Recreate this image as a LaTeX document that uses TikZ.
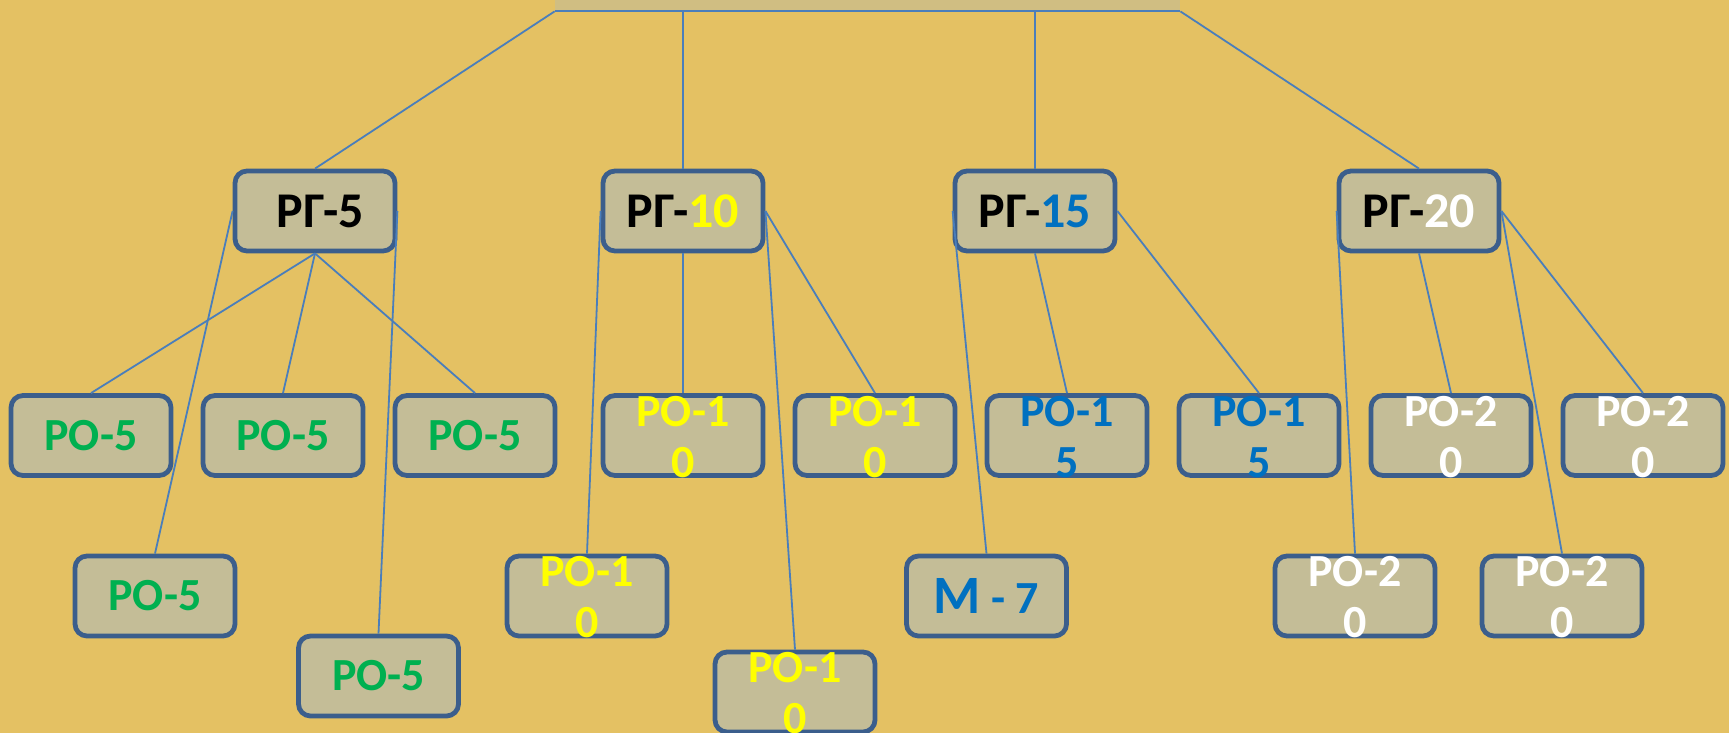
\documentclass[tikz,border=0pt]{standalone}
\usepackage{fontspec}
\setmainfont{Carlito}
\usetikzlibrary{positioning}

\definecolor{paper}{RGB}{228,193,99}
\definecolor{boxfill}{RGB}{196,189,151}
\definecolor{boxline}{RGB}{59,94,140}
\definecolor{linkblue}{RGB}{74,126,187}
\definecolor{rogreen}{RGB}{0,176,80}
\definecolor{royellow}{RGB}{255,255,0}
\definecolor{roblue}{RGB}{0,112,192}

% two lines that may stick out of the box
\newcommand{\twoline}[2]{\smash{\raisebox{4.6pt}{\begin{tabular}[t]{@{}c@{}}#1\\#2\end{tabular}}}}

\tikzset{
  robox/.style={draw=boxline, line width=2.4pt, fill=boxfill, rounded corners=6pt,
    minimum width=80pt, minimum height=40pt, inner sep=0pt,
    font=\fontsize{23}{25.5}\selectfont\bfseries},
  rgbox/.style={robox, font=\fontsize{25}{29}\selectfont\bfseries},
  rootbox/.style={fill=boxfill, fill opacity=0.6, minimum width=312.5pt,
    minimum height=35pt, inner sep=0pt},
  ro5/.style={robox, text=rogreen},
  ro10/.style={robox, text=royellow},
  ro15/.style={robox, text=roblue},
  ro20/.style={robox, text=white},
  link/.style={draw=linkblue, line width=0.9pt},
}

\begin{document}
\begin{tikzpicture}[x=0.5pt,y=-0.5pt,on grid,node distance=96pt]
   \useasboundingbox (0,0) rectangle (1729,733);
   \fill[paper] (0,0) rectangle (1729,733);
   \node[rootbox] (root) at (867.5,-24) {};
   % groups
   \node[rgbox] (rg_5)  at (315,211)  {\hspace{5.5pt}РГ-5};
   \node[rgbox] (rg_10) at (683,211)  {РГ-\textcolor{royellow}{10}};
   \node[rgbox] (rg_15) at (1035,211) {РГ-\textcolor{roblue}{15}};
   \node[rgbox] (rg_20) at (1419,211) {РГ-\textcolor{white}{20}};
   % first row
   \node[ro5]  (ro5_1)  at (91,435.5)          {РО-5};
   \node[ro5]  (ro5_2)  [right=of ro5_1]       {РО-5};
   \node[ro5]  (ro5_3)  [right=of ro5_2]       {РО-5};
   \node[ro10] (ro10_1) [below=112.25pt of rg_10] {\twoline{РО-1}{0}};
   \node[ro10] (ro10_2) [right=of ro10_1]      {\twoline{РО-1}{0}};
   \node[ro15] (ro15_1) [right=of ro10_2]      {\twoline{РО-1}{5}};
   \node[ro15] (ro15_2) [right=of ro15_1]      {\twoline{РО-1}{5}};
   \node[ro20] (ro20_1) [right=of ro15_2]      {\twoline{РО-2}{0}};
   \node[ro20] (ro20_2) [right=of ro20_1]      {\twoline{РО-2}{0}};
   % lower boxes
   \node[ro5]  (ro5_4)  at (155,596)   {РО-5};
   \node[ro5]  (ro5_5)  at (378.5,676) {РО-5};
   \node[ro10] (ro10_3) at (587,596)   {\twoline{РО-1}{0}};
   \node[ro10] (ro10_4) at (795,692)   {\twoline{РО-1}{0}};
   \node[ro15] (m_7)    at (986.5,596) {{\fontsize{27}{29}\selectfont М} - 7};
   \node[ro20] (ro20_3) at (1355,596)  {\twoline{РО-2}{0}};
   \node[ro20] (ro20_4) at (1562,596)  {\twoline{РО-2}{0}};
    \path[link]
    (root.south west) edge (root.south east)
                      edge (rg_5.north)
    (root.south east) edge (rg_20.north)
    (rg_10.north |- root.south) edge (rg_10.north)
    (rg_15.north |- root.south) edge (rg_15.north)
    (rg_5.west)  edge (ro5_4.north)
    (rg_5.south) edge (ro5_1.north)
                 edge (ro5_2.north)
                 edge (ro5_3.north)
    (rg_5.east)  edge (ro5_5.north)
    (rg_10.west)  edge (ro10_3.north)
    (rg_10.south) edge (ro10_1.north)
    (rg_10.east)  edge (ro10_4.north)
                  edge (ro10_2.north)
    (rg_15.west)  edge (m_7.north)
    (rg_15.south) edge (ro15_1.north)
    (rg_15.east)  edge (ro15_2.north)
    (rg_20.west)  edge (ro20_3.north)
    (rg_20.south) edge (ro20_1.north)
    (rg_20.east)  edge (ro20_4.north)
                  edge (ro20_2.north);
\end{tikzpicture}
\end{document}
